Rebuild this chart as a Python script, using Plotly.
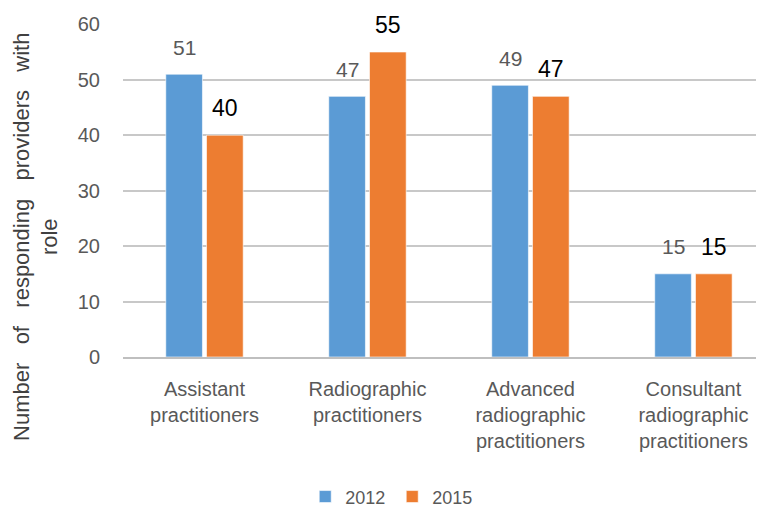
import plotly.graph_objects as go

categories = ["Assistant<br>practitioners", "Radiographic<br>practitioners",
              "Advanced<br>radiographic<br>practitioners", "Consultant<br>radiographic<br>practitioners"]
values_2012 = [51, 47, 49, 15]
values_2015 = [40, 55, 47, 15]
series_names = ["2012", "2015"]
colors = ["#5B9BD5", "#ED7D31"]
y_ticks = [0, 10, 20, 30, 40, 50, 60]
y_title_words = ["Number", "of", "responding", "providers", "with"]
y_title_last = "role"

FONT = "Liberation Sans, Arial, sans-serif"
GRAY = "#595959"

fig = go.Figure()
for name, vals, col in zip(series_names, [values_2012, values_2015], colors):
    fig.add_trace(go.Bar(x=list(range(len(categories))), y=vals, name=name,
                         marker=dict(color=col, line=dict(color="rgba(255,255,255,0.6)", width=1))))

# data labels above bars
offsets = [-0.125, 0.125]
label_styles = [dict(size=21, color=GRAY), dict(size=23, color="#000000")]
for vals, off, st in zip([values_2012, values_2015], offsets, label_styles):
    for i, v in enumerate(vals):
        fig.add_annotation(x=i + off, y=v, xref="x", yref="y", text=str(v), showarrow=False,
                           yanchor="middle", yshift=27, font=dict(family=FONT, **st))

# y-axis title (two lines, wide word spacing as in the original)
title_text = "\u00a0\u00a0\u00a0".join(y_title_words) + "<br>" + y_title_last
fig.add_annotation(x=-0.136, y=0.36, xref="paper", yref="paper", text=title_text,
                   showarrow=False, textangle=-90, xanchor="center", yanchor="middle",
                   font=dict(family=FONT, size=22, color="#404040"))

# page body adds an 8px offset, so the figure is drawn 8px smaller
fig.update_layout(
    width=756, height=505,
    margin=dict(l=115, r=0, t=16, b=156, autoexpand=False),
    paper_bgcolor="white", plot_bgcolor="white",
    barmode="group", bargap=0.5, bargroupgap=0.1,
    font=dict(family=FONT, color=GRAY),
    showlegend=True,
    legend=dict(orientation="h", x=0.42, xanchor="center", y=-0.42, yanchor="middle",
                font=dict(size=18, color=GRAY), traceorder="normal", entrywidth=42,
                itemwidth=30),
    xaxis=dict(range=[-0.5, 3.433], tickmode="array", tickvals=list(range(len(categories))),
               ticktext=categories, tickfont=dict(size=20, color=GRAY), showgrid=False,
               showline=True, linecolor="#bfbfbf", linewidth=2, ticks="", ticklabelstandoff=13,
               zeroline=False, automargin=False),
    yaxis=dict(range=[0, 60.05], tickvals=y_ticks, tickfont=dict(size=20, color=GRAY),
               showgrid=True, gridcolor="#c8c8c8", gridwidth=1.5, zeroline=False, showline=False,
               ticklabelstandoff=22, automargin=False),
)

fig.write_html("out.html")
